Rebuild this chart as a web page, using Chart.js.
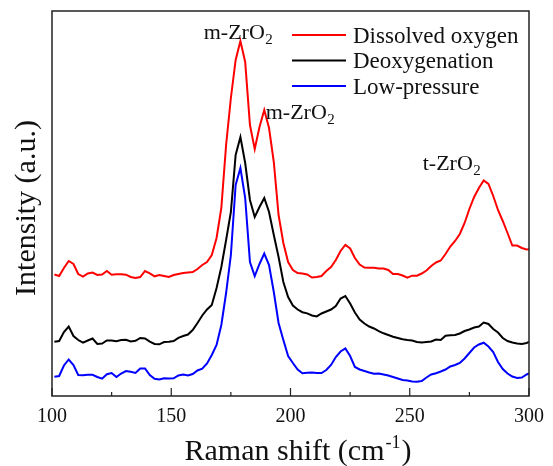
<!DOCTYPE html>
<html><head><meta charset="utf-8">
<script src="https://cdn.jsdelivr.net/npm/chart.js@4.4.1/dist/chart.umd.min.js"></script>
<style>html,body{margin:0;padding:0;background:#fff;}#wrap{width:553px;height:466px;}</style>
</head><body><div id="wrap"><canvas id="c" width="553" height="466"></canvas></div>
<script>
// ---- data (Raman shift in cm-1, intensity in arbitrary units) ----
const ramanShift = [101,103,105,107,109,111,113,115,117,119,121,123,125,127,129,131,133,135,137,139,141,143,145,147,149,151,153,155,157,159,161,163,165,167,169,171,173,175,177,179,181,183,185,187,189,191,193,195,197,199,201,203,205,207,209,211,213,215,217,219,221,223,225,227,229,231,233,235,237,239,241,243,245,247,249,251,253,255,257,259,261,263,265,267,269,271,273,275,277,279,281,283,285,287,289,291,293,295,297,299,300];
const dissolvedOxygen = [121.5,120,128,135,132,122,119.3,122.5,123.5,121,121.5,125,121.3,121.7,121.8,121.3,119,118,119,125,122.7,119.7,121,120,119,121,122,123,123.5,124,127,131,134,141,158,188,251,298,336,355,334,271,247,269,286,268,234,181,153,134,126,123,122.5,121.5,118.5,119,120,125,129,136,145,151,147.5,138,131.5,128.5,128.3,128.3,127.5,127.5,126,122,122,120.5,118.3,120.3,120.3,122.5,125.5,130,133.5,135.5,142,149.5,155,162,173,187,199,208,215.5,212,200,186,175,163,150.5,150.5,148,146.5,146.7];
const deoxygenation = [54.3,55,64,69.5,60,56,53.3,55.5,57.5,52,52.5,55.5,55.5,54.7,56,56.2,54.5,55.2,58,57.5,54.4,52,51.7,54,54.3,55,58.2,60,61.5,66,73,80.5,86.5,91,108,129,156,184,241,259,233,196,179,189,198,184,161,139,114,99,90.5,86.5,83.8,82.6,80.5,79.6,82.5,84.5,86.5,90,97.5,100,92.5,83.5,76.5,72.5,69.5,67.5,64.8,62.7,61,59.3,58,56.7,56,55.5,54,53.5,54,54.5,56.5,56,60.2,60.7,61,62.5,65,66.5,68.5,69.5,73.5,72,67,63.5,58,55,53.5,52.5,52,53,54];
const lowPressure = [19.3,20,30.5,36.5,31,21,20.7,21.2,21.2,19,17.3,21.8,23,19,22.5,25,24.2,23,27.5,27.5,21,17.2,16.5,17.7,17.5,17.7,20.5,21.5,20.5,22,25.5,27.3,32.5,41,51,71,103,141,211,228,198,134,120,132,142.5,131,104,73,56,40,33,26.5,22.7,23.2,23.4,23,23,26,31,39,44.5,47.5,40,29,26.5,25,23.5,22.2,22.5,21.5,20.5,19,17.5,16,15.5,14.5,14.3,15,18.5,21.5,22.8,24.5,26.5,29.5,31,33,37.5,43,48.5,51.5,53.3,49.5,44,34,27,22.5,19.5,18,18.5,21.5,22.5];
const seriesNames = ['Dissolved oxygen','Deoxygenation','Low-pressure'];
const xTickValues = [100,125,150,175,200,225,250,275,300];
const xLabelValues = [100,150,200,250,300];
const peakNames = ['m-ZrO','m-ZrO','t-ZrO'];
const peakSub = ['2','2','2'];
const peakShift = [178,204,267.5];
const peakLevel = [357.5,277,226];

// ---- styling / layout ----
const SERIF = '"Liberation Serif","Times New Roman",serif';
const seriesColors = ['#ff0000','#000000','#0000ff'];
const seriesData = [dissolvedOxygen, deoxygenation, lowPressure];

const decor = {
  id: 'decor',
  afterDraw(chart) {
    const ctx = chart.ctx, a = chart.chartArea;
    const xs = chart.scales.x, ys = chart.scales.y;
    ctx.save();
    // frame
    ctx.strokeStyle = '#222'; ctx.lineWidth = 1.5;
    ctx.strokeRect(a.left, a.top, a.right - a.left, a.bottom - a.top);
    // inward ticks
    ctx.lineWidth = 1.2;
    xTickValues.forEach(v => {
      const px = xs.getPixelForValue(v);
      const len = xLabelValues.includes(v) ? 8 : 4;
      ctx.beginPath(); ctx.moveTo(px, a.bottom); ctx.lineTo(px, a.bottom - len); ctx.stroke();
    });
    // legend
    ctx.fillStyle = '#111';
    ctx.font = '23px ' + SERIF;
    ctx.textAlign = 'left'; ctx.textBaseline = 'alphabetic';
    chart.data.datasets.forEach((ds, i) => {
      const y = a.top + 24 + i * 25.5;
      ctx.strokeStyle = ds.borderColor; ctx.lineWidth = 2;
      ctx.beginPath(); ctx.moveTo(292, y); ctx.lineTo(346, y); ctx.stroke();
      ctx.fillText(ds.label, 353, y + 7.5);
    });
    // peak labels (with subscript)
    peakNames.forEach((t, i) => {
      ctx.font = '22px ' + SERIF;
      const w1 = ctx.measureText(t).width;
      ctx.font = '15px ' + SERIF;
      const w2 = ctx.measureText(peakSub[i]).width;
      const cx = xs.getPixelForValue(peakShift[i]);
      const by = ys.getPixelForValue(peakLevel[i]);
      const x0 = cx - (w1 + w2) / 2;
      ctx.font = '22px ' + SERIF;
      ctx.fillText(t, x0, by);
      ctx.font = '15px ' + SERIF;
      ctx.fillText(peakSub[i], x0 + w1 + 0.5, by + 5);
    });
    // y title
    ctx.save();
    ctx.font = '30px ' + SERIF;
    ctx.translate(35, 208); ctx.rotate(-Math.PI / 2);
    ctx.textAlign = 'center';
    ctx.fillText('Intensity (a.u.)', 0, 0);
    ctx.restore();
    // x title with superscript
    const main = 'Raman shift (cm', sup = '-1', end = ')';
    ctx.font = '30px ' + SERIF;
    const m1 = ctx.measureText(main).width, m3 = ctx.measureText(end).width;
    ctx.font = '18px ' + SERIF;
    const m2 = ctx.measureText(sup).width;
    let x = 297 - (m1 + m2 + m3) / 2; const by = 460;
    ctx.textAlign = 'left';
    ctx.font = '30px ' + SERIF; ctx.fillText(main, x, by); x += m1;
    ctx.font = '18px ' + SERIF; ctx.fillText(sup, x + 1, by - 12); x += m2 + 2;
    ctx.font = '30px ' + SERIF; ctx.fillText(end, x, by);
    ctx.restore();
  }
};

new Chart(document.getElementById('c'), {
  type: 'line',
  data: {
    datasets: seriesNames.map((name, i) => ({
      label: name,
      data: ramanShift.map((s, j) => ({ x: s, y: seriesData[i][j] })),
      borderColor: seriesColors[i],
      backgroundColor: seriesColors[i],
      borderWidth: 2,
      pointRadius: 0,
      tension: 0,
      fill: false
    }))
  },
  options: {
    responsive: false,
    animation: false,
    devicePixelRatio: 1,
    layout: { padding: { left: 52, right: 23, top: 11, bottom: 0 } },
    plugins: { legend: { display: false }, tooltip: { enabled: false } },
    scales: {
      x: {
        type: 'linear', min: 100, max: 300,
        grid: { display: false, drawTicks: false },
        border: { display: false },
        afterBuildTicks: s => { s.ticks = xTickValues.map(v => ({ value: v })); },
        ticks: {
          autoSkip: false, maxRotation: 0, padding: 9, color: '#111',
          font: { family: SERIF, size: 20 },
          callback: v => xLabelValues.includes(v) ? String(v) : ''
        },
        afterFit: s => { s.height = 70; }
      },
      y: { display: false, min: 0, max: 385 }
    }
  },
  plugins: [decor]
});
</script></body></html>
